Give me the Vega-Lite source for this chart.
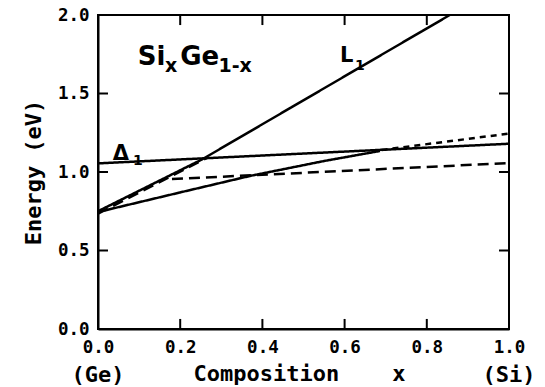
{
  "$schema": "https://vega.github.io/schema/vega-lite/v6.json",
  "width": 411,
  "height": 314,
  "autosize": {"type": "none"},
  "padding": {"left": 98, "top": 15, "right": 36, "bottom": 58},
  "background": "white",
  "config": {
    "view": {"stroke": "black", "strokeWidth": 2},
    "font": "DejaVu Sans Mono",
    "axis": {
      "grid": false,
      "domainColor": "black",
      "domainWidth": 2,
      "labelFont": "DejaVu Sans Mono",
      "labelFontSize": 17.5,
      "labelFontWeight": "bold",
      "labelColor": "black",
      "labelFlush": false,
      "titleFont": "DejaVu Sans Mono",
      "titleFontSize": 22,
      "titleFontWeight": "bold",
      "titleColor": "black"
    }
  },
  "datasets": {
    "lines": [
      {"series": "L1", "kind": "solid", "x": 0.0, "E": 0.75},
      {"series": "L1", "kind": "solid", "x": 0.253, "E": 1.08},
      {"series": "L1", "kind": "solid", "x": 0.856, "E": 2.0},
      {"series": "Delta1", "kind": "solid", "x": 0.0, "E": 1.055},
      {"series": "Delta1", "kind": "solid", "x": 1.0, "E": 1.18},
      {"series": "gap", "kind": "solid", "x": 0.0, "E": 0.745},
      {"series": "gap", "kind": "solid", "x": 0.2, "E": 0.87},
      {"series": "gap", "kind": "solid", "x": 0.37, "E": 0.975},
      {"series": "gap", "kind": "solid", "x": 0.55, "E": 1.07},
      {"series": "gap", "kind": "solid", "x": 0.686, "E": 1.134},
      {"series": "dashL", "kind": "long dash", "x": 0.0, "E": 0.735},
      {"series": "dashL", "kind": "long dash", "x": 0.265, "E": 1.09},
      {"series": "dashFlat", "kind": "long dash", "x": 0.18, "E": 0.955},
      {"series": "dashFlat", "kind": "long dash", "x": 1.0, "E": 1.057},
      {"series": "dashShort", "kind": "short dash", "x": 0.69, "E": 1.14},
      {"series": "dashShort", "kind": "short dash", "x": 1.0, "E": 1.245}
    ],
    "xticks": [{"x": 0.2}, {"x": 0.4}, {"x": 0.6}, {"x": 0.8}],
    "yticks": [{"E": 0.5}, {"E": 1.0}, {"E": 1.5}],
    "titleText": [
      {"x": 0.097, "E": 1.68, "text": "Si"},
      {"x": 0.2, "E": 1.68, "text": "Ge"}
    ],
    "titleSub": [
      {"x": 0.163, "E": 1.637, "text": "x"},
      {"x": 0.293, "E": 1.637, "text": "1-x"}
    ],
    "bandText": [
      {"x": 0.589, "E": 1.70, "text": "L"},
      {"x": 0.036, "E": 1.076, "text": "Δ"}
    ],
    "bandSub": [
      {"x": 0.625, "E": 1.65, "text": "1"},
      {"x": 0.085, "E": 1.045, "text": "1"}
    ],
    "ends": [
      {"x": 0.0, "E": -0.29, "text": "(Ge)"},
      {"x": 1.0, "E": -0.29, "text": "(Si)"}
    ]
  },
  "resolve": {"axis": {"x": "independent", "y": "independent"}},
  "layer": [
    {
      "data": {"name": "lines"},
      "mark": {"type": "line", "color": "black", "strokeWidth": 2.5, "clip": true},
      "encoding": {
        "x": {
          "field": "x", "type": "quantitative",
          "scale": {"domain": [0, 1], "nice": false, "zero": false},
          "axis": {
            "orient": "bottom",
            "values": [0, 0.2, 0.4, 0.6, 0.8, 1.0],
            "format": ".1f",
            "ticks": false,
            "tickSize": 0,
            "labelPadding": 9,
            "title": "Composition\u00a0\u00a0\u00a0\u00a0x",
            "titleX": 201,
            "titleY": 44,
            "titleBaseline": "middle"
          }
        },
        "y": {
          "field": "E", "type": "quantitative",
          "scale": {"domain": [0, 2], "nice": false, "zero": false},
          "axis": {
            "orient": "left",
            "values": [0, 0.5, 1.0, 1.5, 2.0],
            "format": ".1f",
            "ticks": false,
            "tickSize": 0,
            "labelPadding": 9,
            "title": "Energy (eV)",
            "titlePadding": 12
          }
        },
        "detail": {"field": "series"},
        "strokeDash": {
          "field": "kind", "type": "nominal",
          "scale": {"domain": ["solid", "long dash", "short dash"], "range": [[1, 0], [11, 6], [6, 5]]},
          "legend": null
        }
      }
    },
    {
      "data": {"name": "xticks"},
      "mark": {"type": "rule", "color": "black", "strokeWidth": 2},
      "encoding": {
        "x": {"field": "x", "type": "quantitative", "axis": null},
        "y": {"datum": 0, "type": "quantitative", "axis": null},
        "y2": {"datum": 0.064}
      }
    },
    {
      "data": {"name": "xticks"},
      "mark": {"type": "rule", "color": "black", "strokeWidth": 2},
      "encoding": {
        "x": {"field": "x", "type": "quantitative", "axis": null},
        "y": {"datum": 2, "type": "quantitative", "axis": null},
        "y2": {"datum": 1.936}
      }
    },
    {
      "data": {"name": "yticks"},
      "mark": {"type": "rule", "color": "black", "strokeWidth": 2},
      "encoding": {
        "y": {"field": "E", "type": "quantitative", "axis": null},
        "x": {"datum": 0, "type": "quantitative", "axis": null},
        "x2": {"datum": 0.0243}
      }
    },
    {
      "data": {"name": "yticks"},
      "mark": {"type": "rule", "color": "black", "strokeWidth": 2},
      "encoding": {
        "y": {"field": "E", "type": "quantitative", "axis": null},
        "x": {"datum": 1, "type": "quantitative", "axis": null},
        "x2": {"datum": 0.9757}
      }
    },
    {
      "data": {"name": "titleText"},
      "mark": {"type": "text", "font": "DejaVu Sans", "fontSize": 26, "fontWeight": "bold", "align": "left", "baseline": "alphabetic", "color": "black"},
      "encoding": {
        "x": {"field": "x", "type": "quantitative", "axis": null},
        "y": {"field": "E", "type": "quantitative", "axis": null},
        "text": {"field": "text"}
      }
    },
    {
      "data": {"name": "titleSub"},
      "mark": {"type": "text", "font": "DejaVu Sans", "fontSize": 19, "fontWeight": "bold", "align": "left", "baseline": "alphabetic", "color": "black"},
      "encoding": {
        "x": {"field": "x", "type": "quantitative", "axis": null},
        "y": {"field": "E", "type": "quantitative", "axis": null},
        "text": {"field": "text"}
      }
    },
    {
      "data": {"name": "bandText"},
      "mark": {"type": "text", "font": "DejaVu Sans", "fontSize": 21, "fontWeight": "bold", "align": "left", "baseline": "alphabetic", "color": "black"},
      "encoding": {
        "x": {"field": "x", "type": "quantitative", "axis": null},
        "y": {"field": "E", "type": "quantitative", "axis": null},
        "text": {"field": "text"}
      }
    },
    {
      "data": {"name": "bandSub"},
      "mark": {"type": "text", "font": "DejaVu Sans", "fontSize": 14, "fontWeight": "bold", "align": "left", "baseline": "alphabetic", "color": "black"},
      "encoding": {
        "x": {"field": "x", "type": "quantitative", "axis": null},
        "y": {"field": "E", "type": "quantitative", "axis": null},
        "text": {"field": "text"}
      }
    },
    {
      "data": {"name": "ends"},
      "mark": {"type": "text", "font": "DejaVu Sans Mono", "fontSize": 22, "fontWeight": "bold", "align": "center", "baseline": "middle", "color": "black"},
      "encoding": {
        "x": {"field": "x", "type": "quantitative", "axis": null},
        "y": {"field": "E", "type": "quantitative", "axis": null},
        "text": {"field": "text"}
      }
    }
  ]
}
